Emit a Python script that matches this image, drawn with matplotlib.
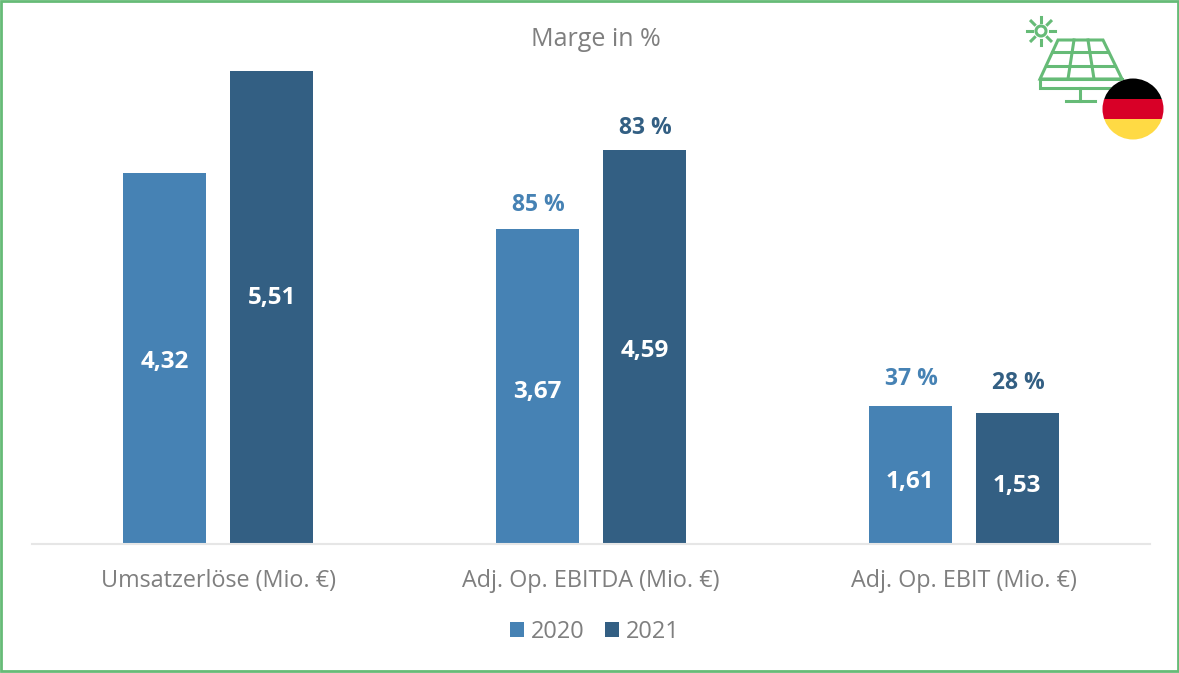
import numpy as np
import matplotlib.pyplot as plt
from matplotlib.patches import Circle, Rectangle, Polygon

plt.rcParams['font.family'] = ['Open Sans', 'DejaVu Sans']

W, H = 1179, 673

categories = ['Umsatzerlöse (Mio. €)', 'Adj. Op. EBITDA (Mio. €)', 'Adj. Op. EBIT (Mio. €)']
years = ['2020', '2021']
values_2020 = [4.32, 3.67, 1.61]
values_2021 = [5.51, 4.59, 1.53]
margin_2020 = [None, '85 %', '37 %']
margin_2021 = [None, '83 %', '28 %']

BLUE = '#4682B4'
DARK = '#335F83'
GREEN = '#66BB77'
GREY = '#7F7F7F'

fig = plt.figure(figsize=(W / 100, H / 100), dpi=100)

# Balken
ax = fig.add_axes([32 / W, 1 - 544 / H, 1118 / W, 484 / H])
x = np.arange(len(categories))
bw = 0.2225
off = 0.1435
bars1 = ax.bar(x - off, values_2020, bw, color=BLUE, label=years[0])
bars2 = ax.bar(x + off, values_2021, bw, color=DARK, label=years[1])
ax.set_xlim(-0.5, 2.5)
ax.set_ylim(0, 484 / 85.8)

# Labels sitzen im Original nicht exakt mittig: Versatz in Pixeln
shift_2020 = [-3, -5, -7]
shift_2021 = [10, -4, -8]
gap_2020 = [0, 24, 27]
gap_2021 = [0, 22, 30]

for bars, vals, margins, col, shifts, gaps in [
        (bars1, values_2020, margin_2020, BLUE, shift_2020, gap_2020),
        (bars2, values_2021, margin_2021, DARK, shift_2021, gap_2021)]:
    for b, v, m, s, g in zip(bars, vals, margins, shifts, gaps):
        cx = b.get_x() + b.get_width() / 2
        ax.annotate(f'{v:.2f}'.replace('.', ','), (cx, v / 2), xytext=(0, s),
                    textcoords='offset pixels', color='white', fontsize=17.5,
                    fontweight='bold', ha='center', va='center')
        if m:
            ax.annotate(m, (cx, v), xytext=(1, g), textcoords='offset pixels', color=col,
                        fontsize=16.5, fontweight='bold', ha='center', va='center')

for s in ['top', 'left', 'right']:
    ax.spines[s].set_visible(False)
ax.spines['bottom'].set_color('#E6E6E6')
ax.spines['bottom'].set_linewidth(1.5)
ax.set_yticks([])
ax.set_xticks(x)
ax.set_xticklabels(categories, color=GREY, fontsize=16.8)
ax.tick_params(axis='x', length=0, pad=18)

fig.text(596 / W, 1 - 40 / H, 'Marge in %', color=GREY, fontsize=18, ha='center', va='center')
fig.legend(loc='center', bbox_to_anchor=(595 / W, 1 - 632 / H), ncol=2, frameon=False,
           fontsize=17, labelcolor=GREY, handlelength=0.6, handleheight=0.6,
           handletextpad=0.3, columnspacing=0.86)

# Rahmen und Icon in Pixelkoordinaten
ov = fig.add_axes([0, 0, 1, 1], facecolor='none')
ov.set_xlim(0, W)
ov.set_ylim(H, 0)
ov.axis('off')
ov.add_patch(Rectangle((1, 1), W - 2, H - 3, fill=False, ec=GREEN, lw=2))

lw = 2.2
# Sonne
ov.add_patch(Circle((1041, 31), 5, fill=False, ec=GREEN, lw=lw))
for a in np.arange(0, 360, 45):
    ca, sa = np.cos(np.radians(a)), np.sin(np.radians(a))
    ov.plot([1041 + 9 * ca, 1041 + 14 * ca], [31 + 9 * sa, 31 + 14 * sa], color=GREEN, lw=lw)
# Solarpanel
ov.add_patch(Polygon([(1058, 40), (1103, 40), (1122, 79), (1040, 79)], fill=False, ec=GREEN, lw=lw))
ov.add_patch(Rectangle((1040, 79), 82, 9, fill=False, ec=GREEN, lw=lw))
ov.plot([1052, 1108], [52, 52], color=GREEN, lw=lw)
ov.plot([1046, 1115], [66, 66], color=GREEN, lw=lw)
ov.plot([1074, 1068], [40, 79], color=GREEN, lw=lw)
ov.plot([1088, 1094], [40, 79], color=GREEN, lw=lw)
ov.plot([1080, 1080], [88, 101], color=GREEN, lw=lw)
ov.plot([1066, 1095], [101, 101], color=GREEN, lw=lw)
# Flagge
clip = Circle((1133, 109), 30.5, transform=ov.transData, fc='white', ec='none', zorder=3)
ov.add_patch(clip)
for y0, col in [(78, '#000000'), (98.5, '#D80027'), (119, '#FFDA44')]:
    r = Rectangle((1100, y0), 66, 20.5, fc=col, ec='none', zorder=4)
    ov.add_patch(r)
    r.set_clip_path(clip)

fig.savefig('out.png', dpi=100)
